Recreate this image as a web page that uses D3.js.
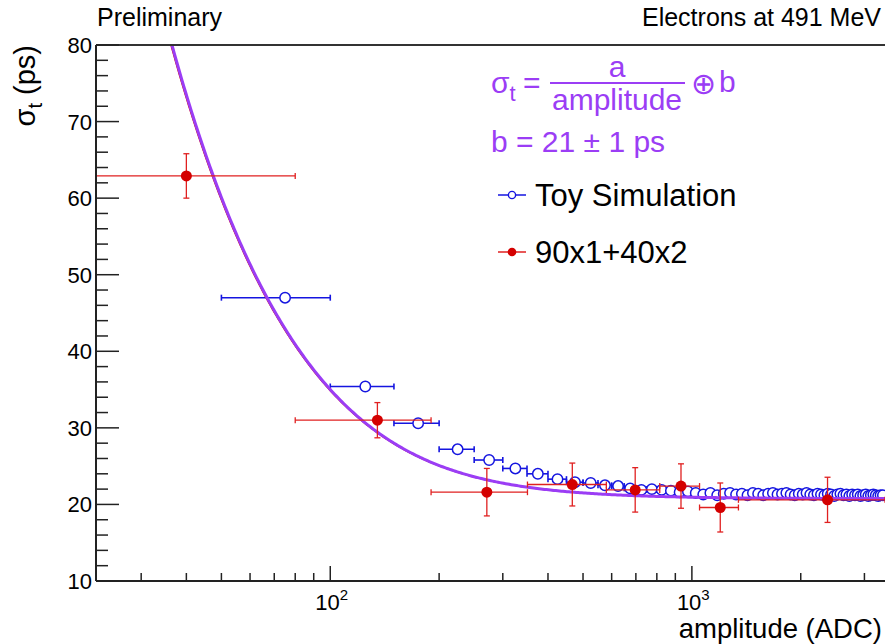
<!DOCTYPE html>
<html>
<head>
<meta charset="utf-8">
<script src="https://cdn.jsdelivr.net/npm/d3@7"></script>
<style>
  html, body { margin: 0; padding: 0; background: #fff; }
  svg { display: block; font-family: "Liberation Sans", Arial, Helvetica, sans-serif; }
</style>
</head>
<body>
<svg id="chart" width="885" height="644"></svg>
<script>
// ---------------- DATA ----------------
// Toy Simulation (blue open circles): bin centres, sigma_t, errors
const toyX = [75,125,175,225,275,325,375,425,475,525,575,625,675,725,775,825,875,925,975,
  1025,1075,1125,1175,1225,1275,1325,1375,1425,1475,1525,1575,1625,1675,1725,1775,1825,1875,1925,1975,
  2025,2075,2125,2175,2225,2275,2325,2375,2425,2475,2525,2575,2625,2675,2725,2775,2825,2875,2925,2975,
  3025,3075,3125,3175,3225,3275,3325,3375];
const toyY = [47.0,35.4,30.6,27.2,25.8,24.7,24.0,23.3,22.9,22.8,22.5,22.4,22.1,21.9,22.0,21.9,21.8,21.6,21.7,
  21.5,21.3,21.5,21.2,21.4,21.5,21.3,21.4,21.2,21.5,21.4,21.2,21.4,21.5,21.3,21.4,21.5,21.3,21.2,21.4,
  21.3,21.5,21.3,21.2,21.4,21.3,21.2,21.4,21.3,21.1,21.3,21.4,21.2,21.3,21.1,21.3,21.2,21.3,21.1,21.2,
  21.3,21.1,21.2,21.3,21.2,21.1,21.2,21.2];
const toyYerr = [0.7,0.3,0.25,0.2,0.2,0.2,0.15,0.15,0.15,0.15,0.15,0.15,0.15,0.15,0.15,0.15,0.15,0.15,0.15,
  0.15,0.15,0.15,0.15,0.15,0.15,0.15,0.15,0.15,0.15,0.15,0.15,0.15,0.15,0.15,0.15,0.15,0.15,0.15,0.15,
  0.15,0.15,0.15,0.15,0.15,0.15,0.15,0.15,0.15,0.15,0.15,0.15,0.15,0.15,0.15,0.15,0.15,0.15,0.15,0.15,
  0.15,0.15,0.15,0.15,0.15,0.15,0.15,0.15];
const toyXerr = 25;

// 90x1+40x2 (red filled circles)
const dataX    = [40, 135, 271, 467, 697, 933, 1198, 2372];
const dataY    = [62.9, 31.0, 21.6, 22.6, 21.9, 22.4, 19.6, 20.6];
const dataYerr = [2.9, 2.3, 3.1, 2.8, 2.9, 2.9, 3.2, 2.95];
const dataXlo  = [0, 80, 190, 351, 580, 815, 1050, 1345];
const dataXhi  = [80, 190, 351, 580, 815, 1050, 1345, 3420];

// Fit parameters: sigma = a/A (+) b
const fitA = 2820;
const fitB = 20.75;

// Axis ticks
const yMajor = [10,20,30,40,50,60,70,80];
const yMinor = [12,14,16,18,22,24,26,28,32,34,36,38,42,44,46,48,52,54,56,58,62,64,66,68,72,74,76,78];
const xMajor = [100, 1000];
const xMajorExp = ["2", "3"];
const xMinor = [30,40,50,60,70,80,90,200,300,400,500,600,700,800,900,2000,3000];

// ---------------- CHART ----------------
const svg = d3.select("#chart");
const L = 96, R = 885, T = 45, B = 581;
const x = d3.scaleLog().domain([22.5, 3420]).range([L, R]);
const y = d3.scaleLinear().domain([10, 80]).range([B, T]);

const purple = "#9b3df5";
const blue = "#1515e0";
const red = "#d40000";
const redBar = "#e02020";
const axisCol = "#222";

svg.append("defs").append("clipPath").attr("id", "clip")
  .append("rect").attr("x", L).attr("y", T).attr("width", R - L).attr("height", B - T);

const plot = svg.append("g").attr("clip-path", "url(#clip)");

// Blue toy simulation
const toy = toyX.map((d, i) => ({x: d, y: toyY[i], ey: toyYerr[i]}));
const gT = plot.append("g");
const cap = 3;
toy.forEach(d => {
  const cx = x(d.x), cy = y(d.y);
  const x0 = x(d.x - toyXerr), x1 = x(d.x + toyXerr);
  gT.append("line").attr("x1", x0).attr("x2", x1).attr("y1", cy).attr("y2", cy)
    .attr("stroke", blue).attr("stroke-width", 1.6);
  gT.append("line").attr("x1", x0).attr("x2", x0).attr("y1", cy - cap).attr("y2", cy + cap)
    .attr("stroke", blue).attr("stroke-width", 1.6);
  gT.append("line").attr("x1", x1).attr("x2", x1).attr("y1", cy - cap).attr("y2", cy + cap)
    .attr("stroke", blue).attr("stroke-width", 1.6);
  gT.append("line").attr("x1", cx).attr("x2", cx).attr("y1", y(d.y + d.ey)).attr("y2", y(d.y - d.ey))
    .attr("stroke", blue).attr("stroke-width", 1.6);
});
gT.selectAll("circle").data(toy).join("circle")
  .attr("cx", d => x(d.x)).attr("cy", d => y(d.y)).attr("r", 5.2)
  .attr("fill", "white").attr("stroke", blue).attr("stroke-width", 1.5);

// Fit curve
const fitFn = A => Math.sqrt((fitA / A) * (fitA / A) + fitB * fitB);
const samples = d3.range(0, 401).map(i => Math.pow(10, Math.log10(30) + i * (Math.log10(3420) - Math.log10(30)) / 400));
const line = d3.line().x(d => x(d)).y(d => y(fitFn(d)));
plot.append("path").datum(samples).attr("d", line)
  .attr("fill", "none").attr("stroke", red).attr("stroke-width", 1.5).attr("transform", "translate(-1,0)");
plot.append("path").datum(samples).attr("d", line)
  .attr("fill", "none").attr("stroke", purple).attr("stroke-width", 3);

// Red data
const gD = plot.append("g");
dataX.forEach((d, i) => {
  const cx = x(d), cy = y(dataY[i]);
  const x0 = dataXlo[i] > 0 ? x(dataXlo[i]) : L - 20;
  const x1 = x(dataXhi[i]);
  const y0 = y(dataY[i] + dataYerr[i]), y1 = y(dataY[i] - dataYerr[i]);
  const seg = (a, b, c, e) => gD.append("line").attr("x1", a).attr("x2", b).attr("y1", c).attr("y2", e)
    .attr("stroke", redBar).attr("stroke-width", 1.3);
  seg(x0, x1, cy, cy);
  seg(x0, x0, cy - cap, cy + cap);
  seg(x1, x1, cy - cap, cy + cap);
  seg(cx, cx, y0, y1);
  seg(cx - cap, cx + cap, y0, y0);
  seg(cx - cap, cx + cap, y1, y1);
});
gD.selectAll("circle").data(dataX).join("circle")
  .attr("cx", d => x(d)).attr("cy", (d, i) => y(dataY[i])).attr("r", 5.5)
  .attr("fill", red);

// ---------------- AXES ----------------
const ax = svg.append("g");
ax.append("line").attr("x1", L).attr("x2", R).attr("y1", B).attr("y2", B).attr("stroke", axisCol).attr("stroke-width", 2);
ax.append("line").attr("x1", L).attr("x2", L).attr("y1", T).attr("y2", B).attr("stroke", axisCol).attr("stroke-width", 2);
ax.append("line").attr("x1", L).attr("x2", R).attr("y1", T).attr("y2", T).attr("stroke", "#333").attr("stroke-width", 2);

yMajor.forEach(v => {
  ax.append("line").attr("x1", L).attr("x2", L + 23).attr("y1", y(v)).attr("y2", y(v)).attr("stroke", axisCol).attr("stroke-width", 1.5);
  ax.append("text").attr("x", L - 4).attr("y", y(v) + 8).attr("text-anchor", "end")
    .attr("font-size", 22).attr("fill", "#000").text(v);
});
yMinor.forEach(v => {
  ax.append("line").attr("x1", L).attr("x2", L + 12).attr("y1", y(v)).attr("y2", y(v)).attr("stroke", axisCol).attr("stroke-width", 1.5);
});
xMajor.forEach((v, i) => {
  ax.append("line").attr("x1", x(v)).attr("x2", x(v)).attr("y1", B).attr("y2", B - 15).attr("stroke", axisCol).attr("stroke-width", 1.5);
  const t = ax.append("text").attr("x", x(v) - 15).attr("y", 610).attr("font-size", 22).attr("fill", "#000");
  t.append("tspan").text("10");
  t.append("tspan").attr("dy", -10).attr("font-size", 15).text(xMajorExp[i]);
});
xMinor.forEach(v => {
  ax.append("line").attr("x1", x(v)).attr("x2", x(v)).attr("y1", B).attr("y2", B - 8).attr("stroke", axisCol).attr("stroke-width", 1.5);
});

// Axis titles
svg.append("text").attr("x", 882).attr("y", 638).attr("text-anchor", "end")
  .attr("font-size", 27.5).attr("fill", "#000").text("amplitude (ADC)");
const yt = svg.append("text").attr("transform", "translate(35,45) rotate(-90)").attr("text-anchor", "end")
  .attr("font-size", 29).attr("fill", "#000");
yt.append("tspan").text("σ");
yt.append("tspan").attr("dy", 7).attr("font-size", 20).text("t");
yt.append("tspan").attr("dy", -7).text(" (ps)");

// Top texts
svg.append("text").attr("x", 97).attr("y", 26).attr("font-size", 25).attr("fill", "#000").text("Preliminary");
svg.append("text").attr("x", 881).attr("y", 26).attr("text-anchor", "end").attr("font-size", 25).attr("fill", "#000").text("Electrons at 491 MeV");

// Formula
const f = svg.append("g").attr("fill", purple).attr("font-size", 30);
const s1 = f.append("text").attr("x", 491).attr("y", 93);
s1.append("tspan").text("σ");
s1.append("tspan").attr("dy", 8).attr("font-size", 22).text("t");
f.append("text").attr("x", 523).attr("y", 93).text("=");
f.append("line").attr("x1", 550).attr("x2", 685).attr("y1", 83).attr("y2", 83).attr("stroke", purple).attr("stroke-width", 2);
f.append("text").attr("x", 617).attr("y", 77).attr("text-anchor", "middle").text("a");
f.append("text").attr("x", 617).attr("y", 110).attr("text-anchor", "middle").text("amplitude");
f.append("text").attr("x", 691).attr("y", 94).attr("font-size", 30).attr("font-family", "DejaVu Sans").text("⊕");
f.append("text").attr("x", 719).attr("y", 92).text("b");
f.append("text").attr("x", 491).attr("y", 152).text("b = 21 ± 1 ps");

// Legend
const lg = svg.append("g");
const legItems = [
  {label: "Toy Simulation", color: blue, filled: false, y: 195, ty: 206},
  {label: "90x1+40x2", color: red, filled: true, y: 252, ty: 263}
];
legItems.forEach(it => {
  lg.append("line").attr("x1", 498).attr("x2", 526).attr("y1", it.y).attr("y2", it.y)
    .attr("stroke", it.filled ? redBar : blue).attr("stroke-width", 1.5);
  lg.append("circle").attr("cx", 512).attr("cy", it.y).attr("r", it.filled ? 4.3 : 3.6)
    .attr("fill", it.filled ? red : "white").attr("stroke", it.color).attr("stroke-width", it.filled ? 0 : 1.4);
  lg.append("text").attr("x", 535).attr("y", it.ty).attr("font-size", 31).attr("fill", "#000").text(it.label);
});
</script>
</body>
</html>
